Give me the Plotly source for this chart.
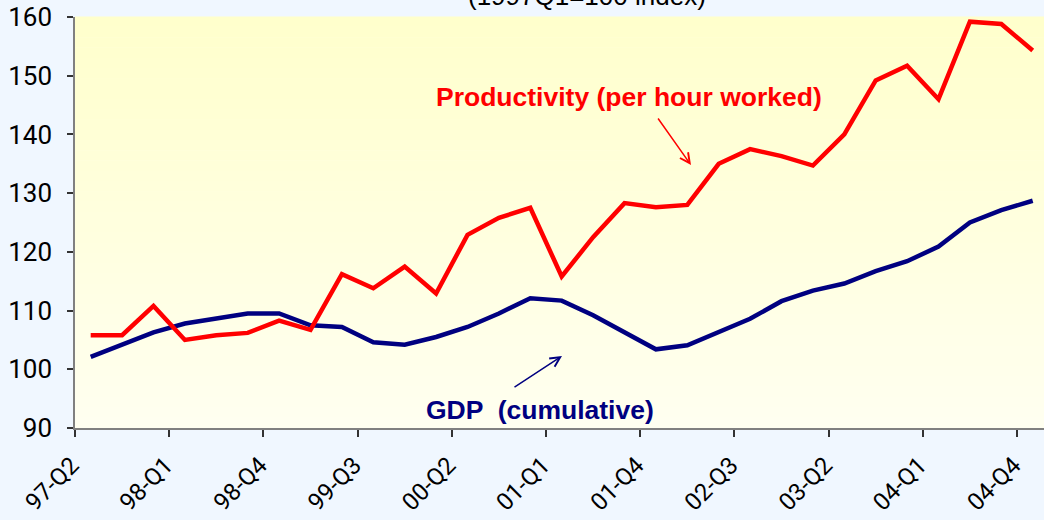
import plotly.graph_objects as go

quarters = ["97-Q2", "97-Q3", "97-Q4",
            "98-Q1", "98-Q2", "98-Q3", "98-Q4",
            "99-Q1", "99-Q2", "99-Q3", "99-Q4",
            "00-Q1", "00-Q2", "00-Q3", "00-Q4",
            "01-Q1", "01-Q2", "01-Q3", "01-Q4",
            "02-Q1", "02-Q2", "02-Q3", "02-Q4",
            "03-Q1", "03-Q2", "03-Q3", "03-Q4",
            "04-Q1", "04-Q2", "04-Q3", "04-Q4"]

productivity = [105.8, 105.8, 110.8, 105.0, 105.8, 106.2, 108.3, 106.7, 116.2, 113.8,
                117.5, 112.9, 122.9, 125.8, 127.5, 115.8, 122.5, 128.3, 127.6, 128.0,
                135.0, 137.5, 136.3, 134.7, 140.0, 149.2, 151.7, 146.0, 159.2, 158.8,
                154.3]

gdp = [102.1, 104.3, 106.3, 107.8, 108.7, 109.5, 109.5, 107.5, 107.2, 104.6,
       104.2, 105.5, 107.2, 109.5, 112.1, 111.7, 109.2, 106.3, 103.4, 104.1,
       106.4, 108.6, 111.6, 113.4, 114.6, 116.7, 118.4, 120.9, 125.0, 127.1,
       128.7]

y_ticks = [90, 100, 110, 120, 130, 140, 150, 160]
label_every = 3

x_idx = list(range(len(quarters)))
label_idx = x_idx[::label_every]
label_text = [quarters[i] for i in label_idx]
tick_marks = [i - 0.5 for i in label_idx]

fig = go.Figure()
fig.add_trace(go.Scatter(x=x_idx, y=gdp, mode="lines", name="GDP (cumulative)",
                         line=dict(color="#000080", width=4.5), hoverinfo="skip"))
fig.add_trace(go.Scatter(x=x_idx, y=productivity, mode="lines",
                         name="Productivity (per hour worked)",
                         line=dict(color="#FF0000", width=4.5), hoverinfo="skip"))

# gradient plot background
n_bands = 40
top = (255, 255, 204)
bottom = (255, 255, 240)
shapes = []
for b in range(n_bands):
    t = b / (n_bands - 1)
    col = tuple(round(top[c] + (bottom[c] - top[c]) * t) for c in range(3))
    shapes.append(dict(type="rect", xref="paper", yref="paper", x0=0, x1=1,
                       y0=1 - (b + 1) / n_bands, y1=1 - b / n_bands + 0.001,
                       fillcolor="rgb(%d,%d,%d)" % col, line=dict(width=0), layer="below"))

font_fam = "Liberation Sans Narrow, Arial Narrow, Roboto, sans-serif"
x_tick_font = dict(family=font_fam, size=24, color="#000000")
y_tick_font = dict(family=font_fam, size=26, color="#000000")
paper_col = "#F0F7FF"

fig.update_layout(
    width=1044, height=520,
    margin=dict(l=75, r=0, t=17, b=92),
    paper_bgcolor=paper_col,
    plot_bgcolor="#FFFFE6",
    showlegend=False,
    shapes=shapes,
    xaxis=dict(range=[-0.5, 30.36], tickmode="array", tickvals=label_idx, ticktext=label_text,
               tickangle=-45, ticks="", tickfont=x_tick_font, showgrid=False, zeroline=False,
               showline=True, linecolor="#808080", linewidth=1.5, automargin=False,
               ticklabelshift=-19, ticklabelstandoff=12,
               minor=dict(tickmode="array", tickvals=tick_marks, ticks="outside", ticklen=7,
                          tickcolor="#333333", tickwidth=1.5, showgrid=False)),
    yaxis=dict(range=[90, 160], tickmode="array", tickvals=y_ticks, ticks="outside", ticklen=6,
               tickcolor="#333333", tickwidth=1.5, tickfont=y_tick_font, showgrid=False,
               zeroline=False, showline=True, linecolor="#808080", linewidth=1.5,
               ticklabelstandoff=10, automargin=False),
    annotations=[
        dict(text="(1997Q1=100 index)", xref="paper", yref="paper", x=0.528, y=1.05,
             xanchor="center", yanchor="middle", showarrow=False,
             font=dict(family="Liberation Sans, Arial, sans-serif", size=26, color="#000000")),
        dict(text="<b>Productivity (per hour worked)</b>", xref="paper", yref="paper",
             x=0.572, y=0.805, xanchor="center", yanchor="middle", showarrow=False,
             font=dict(family="Liberation Sans, Arial, sans-serif", size=26.5, color="#FF0000")),
        dict(text="<b>GDP  (cumulative)</b>", xref="paper", yref="paper",
             x=0.480, y=0.0426, xanchor="center", yanchor="middle", showarrow=False,
             font=dict(family="Liberation Sans, Arial, sans-serif", size=26.5, color="#000080")),
        dict(text="", xref="paper", yref="paper", x=(691 - 75) / 969, y=(428 - 165) / 411,
             ax=657 - 691, ay=117 - 165, axref="pixel", ayref="pixel", showarrow=True,
             arrowhead=5, arrowsize=1.3, arrowwidth=1.5, arrowcolor="#FF0000"),
        dict(text="", xref="paper", yref="paper", x=(562 - 75) / 969, y=(428 - 356) / 411,
             ax=513 - 562, ay=388 - 356, axref="pixel", ayref="pixel", showarrow=True,
             arrowhead=5, arrowsize=1.3, arrowwidth=1.5, arrowcolor="#000080"),
    ],
)

fig.write_html("out.html", config={"displayModeBar": False},
               post_script="document.body.style.margin='0';"
                           "document.body.style.overflow='hidden';"
                           "document.body.style.background='" + paper_col + "';")
